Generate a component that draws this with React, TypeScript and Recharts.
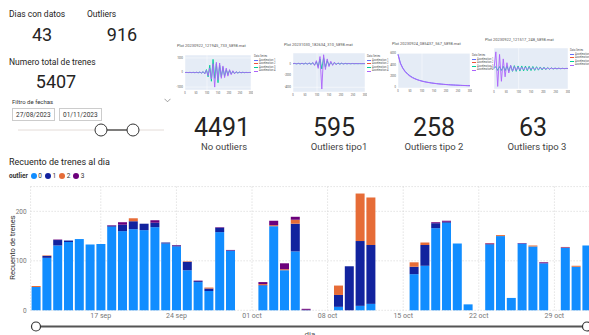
import React from 'react';
import { BarChart, Bar, XAxis, YAxis, CartesianGrid, LineChart, Line } from 'recharts';

// trains counted per day, split by outlier class
const days = [
  '2023-09-11', '2023-09-12', '2023-09-13', '2023-09-14', '2023-09-15', '2023-09-16', '2023-09-17',
  '2023-09-18', '2023-09-19', '2023-09-20', '2023-09-21', '2023-09-22', '2023-09-23', '2023-09-24',
  '2023-09-25', '2023-09-26', '2023-09-27', '2023-09-28', '2023-09-29',
  '2023-10-02', '2023-10-03', '2023-10-04', '2023-10-05', '2023-10-06',
  '2023-10-09', '2023-10-10', '2023-10-11', '2023-10-12',
  '2023-10-16', '2023-10-17', '2023-10-18', '2023-10-19', '2023-10-20', '2023-10-21',
  '2023-10-23', '2023-10-24', '2023-10-25', '2023-10-26', '2023-10-27', '2023-10-28',
  '2023-10-30', '2023-10-31', '2023-11-01',
];
const outlier0 = [
  47, 106, 131, 138, 144, 133, 134, 169, 160, 164, 162, 168, 135, 129, 81, 57, 39, 158, 120,
  50, 170, 81, 119, 0,
  7, 0, 9, 13,
  73, 90, 166, 177, 135, 12,
  133, 150, 25, 135, 129, 95,
  126, 88, 131,
];
const outlier1 = [
  0, 4, 11, 3, 0, 0, 0, 2, 13, 16, 13, 9, 2, 2, 17, 2, 5, 9, 1,
  1, 0, 0, 56, 1,
  24, 89, 131, 119,
  15, 42, 10, 2, 0, 0,
  1, 0, 0, 0, 0, 0,
  0, 0, 0,
];
const outlier2 = [
  2, 1, 0, 0, 0, 0, 0, 0, 0, 6, 0, 0, 0, 0, 1, 0, 2, 0, 0,
  2, 2, 2, 8, 0,
  19, 0, 96, 96,
  9, 5, 0, 0, 0, 0,
  1, 2, 0, 0, 2, 0,
  1, 2, 0,
];
const outlier3 = [
  0, 0, 1, 0, 0, 0, 0, 1, 5, 0, 0, 5, 0, 1, 0, 1, 0, 1, 1,
  4, 9, 12, 6, 2,
  0, 0, 0, 0,
  0, 0, 2, 2, 0, 0,
  1, 0, 0, 1, 0, 2,
  1, 0, 0,
];
const outlierNames = ['0', '1', '2', '3'];
const outlierColors = ['#118DFF', '#12239E', '#E66C37', '#6B007B'];
const weekTicks = ['2023-09-17', '2023-09-24', '2023-10-01', '2023-10-08', '2023-10-15', '2023-10-22', '2023-10-29'];
const countTicks = [0, 100, 200];
const monthNames = ['ene', 'feb', 'mar', 'abr', 'may', 'jun', 'jul', 'ago', 'sep', 'oct', 'nov', 'dic'];

// KPI cards
const diasConDatos = 43;
const totalOutliers = 916;
const totalTrenes = 5407;
const kpiValues = [4491, 595, 258, 63];
const kpiLabels = ['No outliers', 'Outliers tipo1', 'Outliers tipo 2', 'Outliers tipo 3'];
const fechaDesde = '27/08/2023';
const fechaHasta = '01/11/2023';

// sample plots of individual recordings
const accelNames = ['Acceleration 1', 'Acceleration 2', 'Acceleration 3', 'Acceleration 4'];
const accelColors = ['#636EFA', '#EF553B', '#00CC96', '#AB63FA'];
const plotXTicks = [0, 50, 100, 150, 200, 250, 300];

const plotA3 = [0, 3, -4, 6, -6, 8, -10, 12, -15, 25, -35, 50, -80, 200, -300, 500, -600, 900, -400, 600, -700, 500, -300, 350, -250, 200, -150, 150, -100, 80, -60, 40, -30, 20, -15, 10, -8, 5, -3, 2, 0];
const plotA4 = [0, 5, -5, 8, -8, 10, -12, 15, -20, 30, -40, 60, -90, 150, -220, 300, -450, 600, -1000, 700, -500, 650, -400, 450, -350, 300, -250, 200, -150, 120, -90, 60, -40, 30, -20, 15, -10, 8, -5, 3, 0];

const plotB3 = [0, 20, -20, 30, -30, 40, -40, 50, -50, 60, -80, 100, -200, 300, -500, 800, -900, 1000, -600, 500, -300, 200, -150, 100, -80, 60, -50, 40, -30, 25, -20, 15, -12, 10, -8, 6, -5, 4, -3, 2, 0];
const plotB4 = [0, 50, -50, 60, -60, 80, -80, 100, -100, 120, -150, 200, -300, 500, -800, 1200, -4300, 1500, -1000, 800, -500, 400, -300, 250, -200, 150, -120, 100, -80, 60, -50, 40, -30, 30, -20, 20, -10, 10, -5, 5, 0];

const plotC1 = [5900, 4300, 3400, 2800, 2350, 2000, 1720, 1500, 1320, 1170, 1050, 950, 860, 780, 710, 650, 600, 550, 505, 465, 430, 400, 370, 345, 320, 300, 280, 262, 245, 230, 215];
const plotC4 = [5800, 4200, 3300, 2700, 2250, 1900, 1650, 1450, 1280, 1140, 1020, 920, 830, 760, 690, 630, 580, 530, 490, 450, 420, 390, 360, 340, 310, 290, 270, 250, 240, 220, 210];

const plotD3 = [0, 300, -300, 300, -300, 350, -350, 400, -400, 450, -450, 450, -450, 400, -400, 400, -380, 380, -350, 350, -330, 320, -300, 280, -260, 240, -220, 200, -180, 150, -120, 100, -80, 60, -50, 40, -30, 20, -15, 10, 0];
const plotD4 = [0, 2600, -2800, 2200, -2000, 1500, -1300, 900, -700, 500, -400, 300, -300, 250, -250, 200, -200, 200, -180, 180, -150, 150, -150, 130, -120, 120, -100, 100, -90, 80, -70, 60, -50, 40, -30, 30, -20, 20, -15, 10, 0];

const DAY_MS = 86400000;
const firstDay = Date.parse(days[0]);
const dayIndex = (d: string) => Math.round((Date.parse(d) - firstDay) / DAY_MS);
const lastIndex = dayIndex(days[days.length - 1]);
const formatDay = (i: number) => {
  const d = new Date(firstDay + i * DAY_MS);
  return `${String(d.getUTCDate()).padStart(2, '0')} ${monthNames[d.getUTCMonth()]}`;
};

const seriesByOutlier = [outlier0, outlier1, outlier2, outlier3];
const dailyRows = days.map((d, i) => {
  const row: Record<string, number> = { day: dayIndex(d) };
  seriesByOutlier.forEach((s, k) => { row[`c${k}`] = s[i]; });
  return row;
});

const FONT = 'Roboto, "Open Sans", sans-serif';

type Wave = { idx: number; values: number[] };

interface ThumbProps {
  title: string;
  titleX: number;
  titleY: number;
  plotX: number;
  plotY: number;
  plotW: number;
  plotH: number;
  legendX: number;
  legendY: number;
  waves: Wave[];
  yDomain: [number, number];
  yTicks: number[];
}

const Thumb: React.FC<ThumbProps> = ({ title, titleX, titleY, plotX, plotY, plotW, plotH, legendX, legendY, waves, yDomain, yTicks }) => {
  const n = waves[0].values.length;
  const step = 300 / (n - 1);
  const rows = waves[0].values.map((_, i) => {
    const r: Record<string, number> = { t: i * step };
    waves.forEach((w) => { r[`a${w.idx}`] = w.values[i]; });
    return r;
  });
  return (
    <>
      <div style={{ position: 'absolute', left: titleX, top: titleY, fontSize: 4, color: '#555', whiteSpace: 'nowrap' }}>{title}</div>
      <div style={{ position: 'absolute', left: plotX - 10, top: plotY - 2 }}>
        <LineChart width={plotW + 12} height={plotH + 9} data={rows} margin={{ top: 2, right: 2, bottom: 0, left: 0 }}>
          <CartesianGrid fill="#E5ECF6" stroke="#fff" strokeWidth={0.5} />
          <XAxis type="number" dataKey="t" domain={[0, 300]} ticks={plotXTicks} height={7} tickLine={false} axisLine={false}
            tickSize={1} tickMargin={1} tick={{ fontSize: 2.6, fill: '#555' }} />
          <YAxis domain={yDomain} ticks={yTicks} width={10} tickLine={false} axisLine={false}
            tickSize={1} tickMargin={1} tick={{ fontSize: 2.6, fill: '#555' }} />
          {waves.map((w) => (
            <Line key={w.idx} dataKey={`a${w.idx}`} stroke={accelColors[w.idx]} strokeWidth={0.9} dot={false} isAnimationActive={false} />
          ))}
        </LineChart>
      </div>
      <div style={{ position: 'absolute', left: legendX, top: legendY, fontSize: 2.6, color: '#555', lineHeight: '3.6px', whiteSpace: 'nowrap' }}>
        <div>Data Series</div>
        {accelNames.map((name, k) => (
          <div key={name} style={{ display: 'flex', alignItems: 'center' }}>
            <span style={{ display: 'inline-block', width: 4, height: 1, background: accelColors[k], marginRight: 1 }} />
            {name}
          </div>
        ))}
      </div>
    </>
  );
};

const CalendarIcon = () => (
  <svg width={7} height={6} style={{ marginLeft: 4 }}>
    <rect x={0.5} y={0.5} width={6} height={5} fill="none" stroke="#666" strokeWidth={0.7} />
    <line x1={0.5} y1={2} x2={6.5} y2={2} stroke="#666" strokeWidth={0.7} />
  </svg>
);

const DateBox: React.FC<{ left: number; value: string }> = ({ left, value }) => (
  <div style={{
    position: 'absolute', left, top: 108, width: 43, height: 13, boxSizing: 'border-box', border: '1px solid #ccc',
    display: 'flex', alignItems: 'center', paddingLeft: 3, fontSize: 6.5, color: '#333',
  }}>
    {value}<CalendarIcon />
  </div>
);

const kpiCenters = [222, 334, 434, 533];
const kpiLabelCenters = [224, 339, 434, 537];

const App: React.FC = () => {
  return (
    <div style={{ position: 'absolute', left: 0, top: 0, width: 589, height: 335, overflow: 'hidden', background: '#fff', fontFamily: FONT, color: '#252423' }}>
      {/* headline numbers */}
      <div style={{ position: 'absolute', left: 9, top: 9, fontSize: 8.5 }}>Dias con datos</div>
      <div style={{ position: 'absolute', left: 87, top: 9, fontSize: 8.5 }}>Outliers</div>
      <div style={{ position: 'absolute', left: 12, top: 26, width: 60, textAlign: 'center', fontSize: 18, lineHeight: '18px' }}>{diasConDatos}</div>
      <div style={{ position: 'absolute', left: 92, top: 26, width: 60, textAlign: 'center', fontSize: 18, lineHeight: '18px' }}>{totalOutliers}</div>
      <div style={{ position: 'absolute', left: 9, top: 57, fontSize: 8.5 }}>Numero total de trenes</div>
      <div style={{ position: 'absolute', left: 26, top: 73, width: 60, textAlign: 'center', fontSize: 18, lineHeight: '18px' }}>{totalTrenes}</div>

      {/* date slicer */}
      <div style={{ position: 'absolute', left: 12, top: 98, fontSize: 6, color: '#333' }}>Filtro de fechas</div>
      <svg style={{ position: 'absolute', left: 164, top: 98 }} width={7} height={5}>
        <polyline points="0.5,0.8 3.5,3.8 6.5,0.8" fill="none" stroke="#777" strokeWidth={0.7} />
      </svg>
      <DateBox left={12} value={fechaDesde} />
      <DateBox left={59} value={fechaHasta} />
      <svg style={{ position: 'absolute', left: 0, top: 122 }} width={180} height={16}>
        <line x1={18} y1={8} x2={164} y2={8} stroke="#e4dcd8" strokeWidth={1} />
        <line x1={101} y1={8} x2={133} y2={8} stroke="#333" strokeWidth={1.2} />
        <circle cx={101} cy={8} r={6} fill="#fff" stroke="#333" strokeWidth={1} />
        <circle cx={133} cy={8} r={6} fill="#fff" stroke="#333" strokeWidth={1} />
      </svg>

      {/* recording previews */}
      <Thumb title="Plot 20230922_121945_733_5898.mat" titleX={177} titleY={43} plotX={185} plotY={55} plotW={66} plotH={35}
        legendX={254} legendY={55} yDomain={[-1200, 1200]} yTicks={[-1000, -500, 0, 500, 1000]}
        waves={[{ idx: 2, values: plotA3 }, { idx: 3, values: plotA4 }]} />
      <Thumb title="Plot 20231030_182634_310_5898.mat" titleX={284} titleY={42} plotX={293} plotY={53} plotW={72} plotH={39}
        legendX={367} legendY={55} yDomain={[-4800, 1800]} yTicks={[-4000, -2000, 0]}
        waves={[{ idx: 2, values: plotB3 }, { idx: 3, values: plotB4 }]} />
      <Thumb title="Plot 20230924_085437_567_5898.mat" titleX={392} titleY={41} plotX={398} plotY={53} plotW={72} plotH={35}
        legendX={472} legendY={54} yDomain={[-200, 6100]} yTicks={[0, 1000, 2000, 3000, 4000, 5000, 6000]}
        waves={[{ idx: 0, values: plotC1 }, { idx: 3, values: plotC4 }]} />
      <Thumb title="Plot 20230922_121517_248_5898.mat" titleX={485} titleY={37} plotX={494} plotY={48} plotW={74} plotH={41}
        legendX={570} legendY={49} yDomain={[-3200, 3200]} yTicks={[0]}
        waves={[{ idx: 2, values: plotD3 }, { idx: 3, values: plotD4 }]} />

      {kpiValues.map((v, k) => (
        <div key={`v${k}`} style={{ position: 'absolute', left: kpiCenters[k] - 40, top: 115, width: 80, textAlign: 'center', fontSize: 25, lineHeight: '25px' }}>{v}</div>
      ))}
      {kpiLabels.map((l, k) => (
        <div key={`l${k}`} style={{ position: 'absolute', left: kpiLabelCenters[k] - 40, top: 141, width: 80, textAlign: 'center', fontSize: 9.5, color: '#444', whiteSpace: 'nowrap' }}>{l}</div>
      ))}

      {/* daily count chart */}
      <div style={{ position: 'absolute', left: 9, top: 157, fontSize: 9 }}>Recuento de trenes al dia</div>
      <div style={{ position: 'absolute', left: 9, top: 172, display: 'flex', alignItems: 'center', fontSize: 6.5, color: '#333' }}>
        <span style={{ fontWeight: 700, marginRight: 3 }}>outlier</span>
        {outlierNames.map((name, k) => (
          <span key={name} style={{ display: 'flex', alignItems: 'center', marginRight: 3 }}>
            <span style={{ display: 'inline-block', width: 6, height: 6, borderRadius: 3, background: outlierColors[k], marginRight: 1.5 }} />
            {name}
          </span>
        ))}
      </div>
      <div style={{ position: 'absolute', left: 12 - 40, top: 248 - 5, width: 80, textAlign: 'center', transform: 'rotate(-90deg)', fontSize: 7.5, color: '#333', whiteSpace: 'nowrap' }}>
        Recuento de trenes
      </div>
      <div style={{ position: 'absolute', left: 0, top: 180 }}>
        <BarChart width={600} height={150} data={dailyRows} margin={{ top: 6.6, right: 7.8, bottom: 0, left: 0 }}>
          <CartesianGrid stroke="#d4d4d4" strokeDasharray="1 2" />
          <XAxis type="number" dataKey="day" domain={[-0.5, lastIndex + 0.5]} ticks={weekTicks.map(dayIndex)} tickFormatter={formatDay}
            height={19.7} tickLine={false} axisLine={false} tickSize={1} tickMargin={2} tick={{ fontSize: 7, fill: '#777' }} />
          <YAxis domain={[0, 250]} ticks={countTicks} width={30.6} tickLine={false} axisLine={false}
            tickSize={2} tickMargin={2} tick={{ fontSize: 6.5, fill: '#777' }} />
          {outlierNames.map((name, k) => (
            <Bar key={name} dataKey={`c${k}`} name={name} stackId="outlier" fill={outlierColors[k]} barSize={9} isAnimationActive={false} />
          ))}
        </BarChart>
      </div>
      <svg style={{ position: 'absolute', left: 0, top: 320 }} width={589} height={13}>
        <line x1={36} y1={6.5} x2={588} y2={6.5} stroke="#555" strokeWidth={2} />
        <circle cx={36} cy={6.5} r={4.5} fill="#fff" stroke="#333" strokeWidth={1.2} />
        <circle cx={587} cy={6.5} r={4.5} fill="#fff" stroke="#333" strokeWidth={1.2} />
      </svg>
      <div style={{ position: 'absolute', left: 280, top: 330, width: 60, textAlign: 'center', fontSize: 8, color: '#555' }}>dia</div>
    </div>
  );
};

export default App;
